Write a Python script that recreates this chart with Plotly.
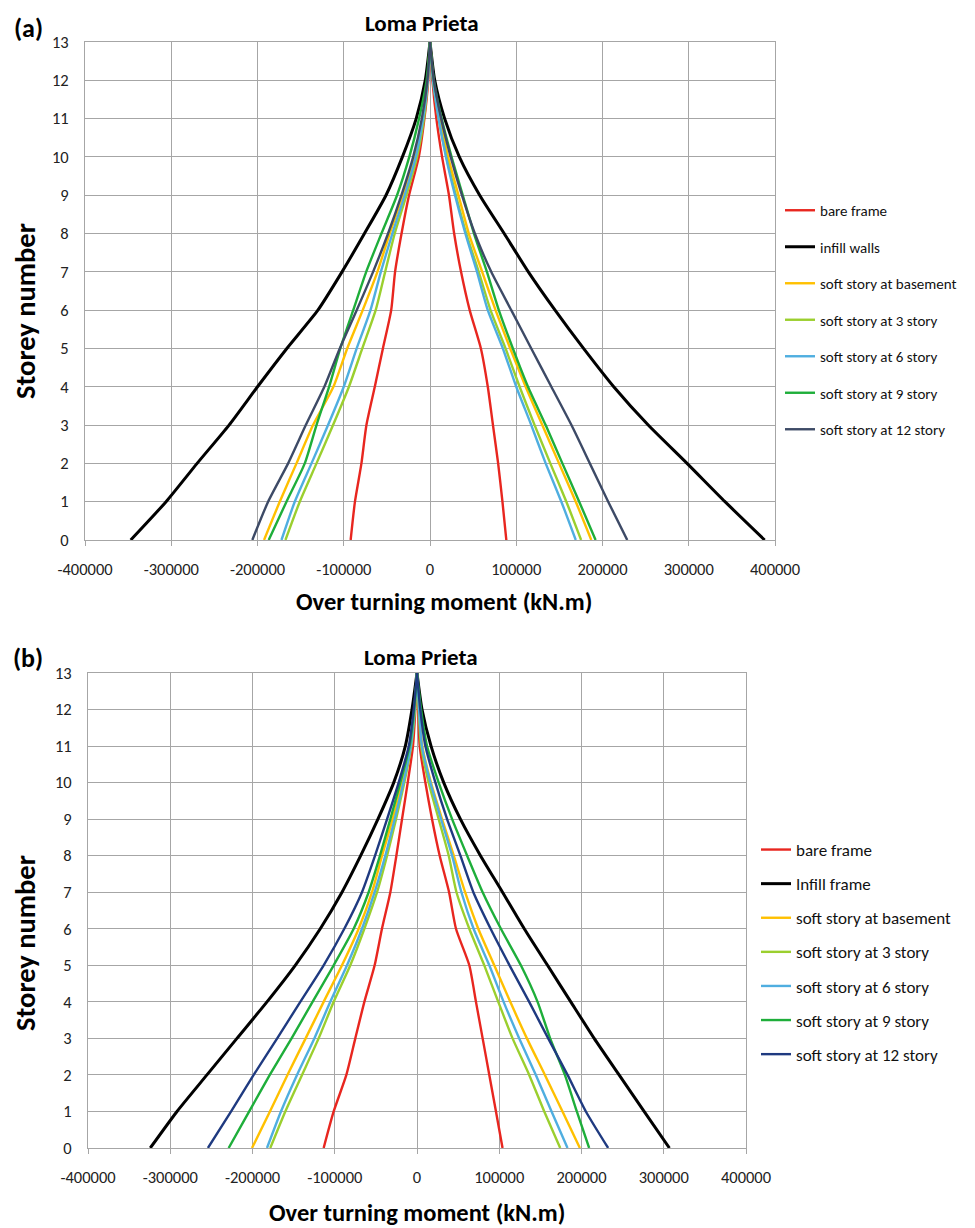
import plotly.graph_objects as go

# ---------------- data ----------------
storeys = list(range(14))  # 0 .. 13

series_names_a = ["bare frame", "infill walls", "soft story at basement", "soft story at 3 story",
                  "soft story at 6 story", "soft story at 9 story", "soft story at 12 story"]
series_names_b = ["bare frame", "Infill frame", "soft story at basement", "soft story at 3 story",
                  "soft story at 6 story", "soft story at 9 story", "soft story at 12 story"]

colors_a = ["#E8261F", "#000000", "#FFC000", "#9BCF2E", "#4FAEE0", "#1EAE3A", "#3D4A66"]
colors_b = ["#E8261F", "#000000", "#FFC000", "#9BCF2E", "#4FAEE0", "#1EAE3A", "#1F3A80"]

# Panel (a) - negative envelope (storey 0..13)
a_neg = [
    [-92000, -87000, -79500, -73700, -64000, -54600, -45000, -40500, -33000, -24300, -13000, -6500, -2000, 0],
    [-347000, -306000, -270000, -233000, -200000, -166000, -130000, -102000, -76000, -51000, -32000, -16000, -5500, 0],
    [-192400, -174200, -154800, -135600, -112000, -96000, -78000, -61000, -46700, -31200, -18000, -8500, -3000, 0],
    [-167600, -151000, -131600, -112400, -94000, -78500, -63000, -52000, -40900, -27300, -15000, -7000, -2500, 0],
    [-172200, -156800, -137400, -118200, -100000, -85000, -69000, -57000, -43600, -29300, -16500, -8000, -2500, 0],
    [-187000, -166400, -145200, -131600, -117000, -104000, -89000, -74000, -56300, -38200, -24000, -12700, -4000, 0],
    [-206000, -187700, -164500, -144000, -122500, -104600, -85000, -66000, -48600, -33100, -19500, -9500, -3000, 0],
]
# Panel (a) - positive envelope
a_pos = [
    [88500, 84000, 79000, 73000, 67000, 59000, 46000, 36000, 28000, 22000, 14000, 7400, 2800, 0],
    [388000, 342000, 298000, 253000, 213000, 178000, 145000, 114000, 86000, 57600, 34000, 17000, 5500, 0],
    [187000, 169000, 149600, 130200, 110900, 93000, 76000, 60500, 45000, 33000, 21000, 11500, 4000, 0],
    [175200, 158100, 139500, 121300, 103900, 87600, 70200, 56500, 42000, 30000, 19000, 10000, 3500, 0],
    [169000, 152300, 134100, 117400, 100000, 84500, 67000, 54500, 41000, 29000, 18500, 10000, 3500, 0],
    [192000, 173000, 153500, 134100, 113600, 96100, 79800, 66000, 51000, 38000, 25000, 13500, 4500, 0],
    [228700, 206600, 185300, 164000, 140700, 117400, 94200, 71000, 52000, 37000, 24000, 13000, 4500, 0],
]

# Panel (b) - negative envelope
b_neg = [
    [-113500, -101300, -85900, -75000, -64000, -51500, -42600, -32400, -25100, -18200, -11300, -4900, -2000, 0],
    [-324300, -291800, -255400, -218900, -182400, -148000, -117600, -91200, -68500, -47500, -28300, -14200, -6100, 0],
    [-200600, -178800, -157500, -135400, -113500, -91200, -70900, -54700, -42500, -29600, -18200, -8000, -3000, 0],
    [-178400, -160100, -139800, -119600, -101300, -81100, -64000, -48600, -36400, -25500, -15400, -7000, -2500, 0],
    [-182400, -165400, -145900, -124800, -105400, -85100, -66900, -51500, -38500, -27100, -16500, -7500, -3000, 0],
    [-229000, -204000, -179000, -152500, -127000, -101300, -77000, -58800, -45000, -32400, -20300, -9000, -3500, 0],
    [-254200, -226000, -198600, -170000, -141900, -113500, -88400, -66900, -51000, -36400, -22300, -10000, -4000, 0],
]
# Panel (b) - positive envelope
b_pos = [
    [104000, 96000, 87900, 79800, 71700, 63600, 47400, 39000, 27600, 18300, 10200, 3300, 1500, 0],
    [306900, 276100, 245700, 215400, 187000, 158700, 130400, 104000, 77200, 52800, 32500, 17100, 6100, 0],
    [198000, 176900, 155500, 133600, 113400, 93900, 74500, 58500, 44700, 30500, 17000, 6500, 2500, 0],
    [174100, 154700, 136400, 116200, 98800, 81800, 63600, 48000, 38600, 26400, 14200, 5000, 2000, 0],
    [183000, 163600, 144500, 124300, 105300, 87900, 68800, 54000, 42700, 29300, 16300, 6000, 2500, 0],
    [209300, 194300, 179800, 161900, 146600, 126300, 102000, 79800, 61000, 42700, 26400, 12200, 5000, 0],
    [232400, 205300, 183000, 159500, 136400, 112500, 89500, 68500, 52800, 36600, 22400, 10200, 4000, 0],
]

x_tick_vals = [-400000, -300000, -200000, -100000, 0, 100000, 200000, 300000, 400000]
x_tick_text = ["-400000", "-300000", "-200000", "-100000", "0", "100000", "200000", "300000", "400000"]
y_tick_vals = list(range(14))

title_text = "Loma Prieta"
x_title = "Over turning moment (kN.m)"
y_title = "Storey number"

# ---------------- figure ----------------
FONT = "Carlito, Lato, sans-serif"
OFF = 8                      # page body margin
W, H = 975 - OFF, 1228 - OFF
fig = go.Figure()

def add_panel(names, colors, neg, pos, xa, ya, legend):
    for i, name in enumerate(names):
        lw = 3.0 if colors[i] == "#000000" else 2.4
        line = dict(color=colors[i], width=lw, shape="spline", smoothing=0.6)
        fig.add_trace(go.Scatter(x=neg[i], y=storeys, mode="lines", name=name, line=line,
                                 legendgroup=legend + name, legend=legend,
                                 xaxis=xa, yaxis=ya, showlegend=True))
        fig.add_trace(go.Scatter(x=pos[i], y=storeys, mode="lines", name=name, line=line,
                                 legendgroup=legend + name, legend=legend,
                                 xaxis=xa, yaxis=ya, showlegend=False))

add_panel(series_names_a, colors_a, a_neg, a_pos, "x", "y", "legend")
add_panel(series_names_b, colors_b, b_neg, b_pos, "x2", "y2", "legend2")

GRID = "#A6A6A6"
def px_x(p):
    return (p - OFF) / W
def px_y(p):
    return 1 - (p - OFF) / H

xcommon = dict(range=[-400000, 400000], tickmode="array", tickvals=x_tick_vals, ticktext=x_tick_text,
               showgrid=True, gridcolor=GRID, gridwidth=1, showline=True, linecolor=GRID, linewidth=1,
               mirror=True, ticks="outside", ticklen=5, tickcolor=GRID, zeroline=False, automargin=False,
               tickfont=dict(family=FONT, size=16.5, color="#222"), ticklabelstandoff=9)
ycommon = dict(range=[0, 13], tickmode="array", tickvals=y_tick_vals,
               showgrid=True, gridcolor=GRID, gridwidth=1, showline=True, linecolor=GRID, linewidth=1,
               mirror=True, ticks="", zeroline=False, automargin=False,
               tickfont=dict(family=FONT, size=16.5, color="#222"), ticklabelstandoff=12)

fig.update_layout(
    width=W, height=H, margin=dict(l=0, r=0, t=0, b=0, autoexpand=False),
    paper_bgcolor="white", plot_bgcolor="white",
    xaxis=dict(domain=[px_x(85), px_x(775)], anchor="y", **xcommon),
    yaxis=dict(domain=[px_y(540), px_y(42)], anchor="x", **ycommon),
    xaxis2=dict(domain=[px_x(88), px_x(746)], anchor="y2", **xcommon),
    yaxis2=dict(domain=[px_y(1148), px_y(673)], anchor="x2", **ycommon),
    legend=dict(x=px_x(780), y=px_y(194), xanchor="left", yanchor="top",
                font=dict(family=FONT, size=15, color="#111"), tracegroupgap=14,
                traceorder="grouped", bgcolor="rgba(0,0,0,0)", itemwidth=30),
    legend2=dict(x=px_x(756), y=px_y(832), xanchor="left", yanchor="top",
                 font=dict(family=FONT, size=17, color="#111"), tracegroupgap=9,
                 traceorder="grouped", bgcolor="rgba(0,0,0,0)", itemwidth=30),
    showlegend=True,
)

def ann(text, x, y, size, angle=0):
    fig.add_annotation(text=text, x=px_x(x), y=px_y(y), xref="paper", yref="paper",
                       showarrow=False, textangle=angle, xanchor="center", yanchor="middle",
                       borderpad=0, font=dict(family=FONT, size=size, color="#000"))

ann("<b>(a)</b>", 28, 28, 26)
ann("<b>(b)</b>", 28, 658, 26)
ann("<b>" + title_text + "</b>", 422, 23, 23)
ann("<b>" + title_text + "</b>", 421, 657, 23)
ann("<b>" + x_title + "</b>", 444, 602, 24.5)
ann("<b>" + x_title + "</b>", 417, 1213, 24.5)
ann("<b>" + y_title + "</b>", 25, 311, 28.5, -90)
ann("<b>" + y_title + "</b>", 25, 943, 28.5, -90)

fig.write_html("out.html")
